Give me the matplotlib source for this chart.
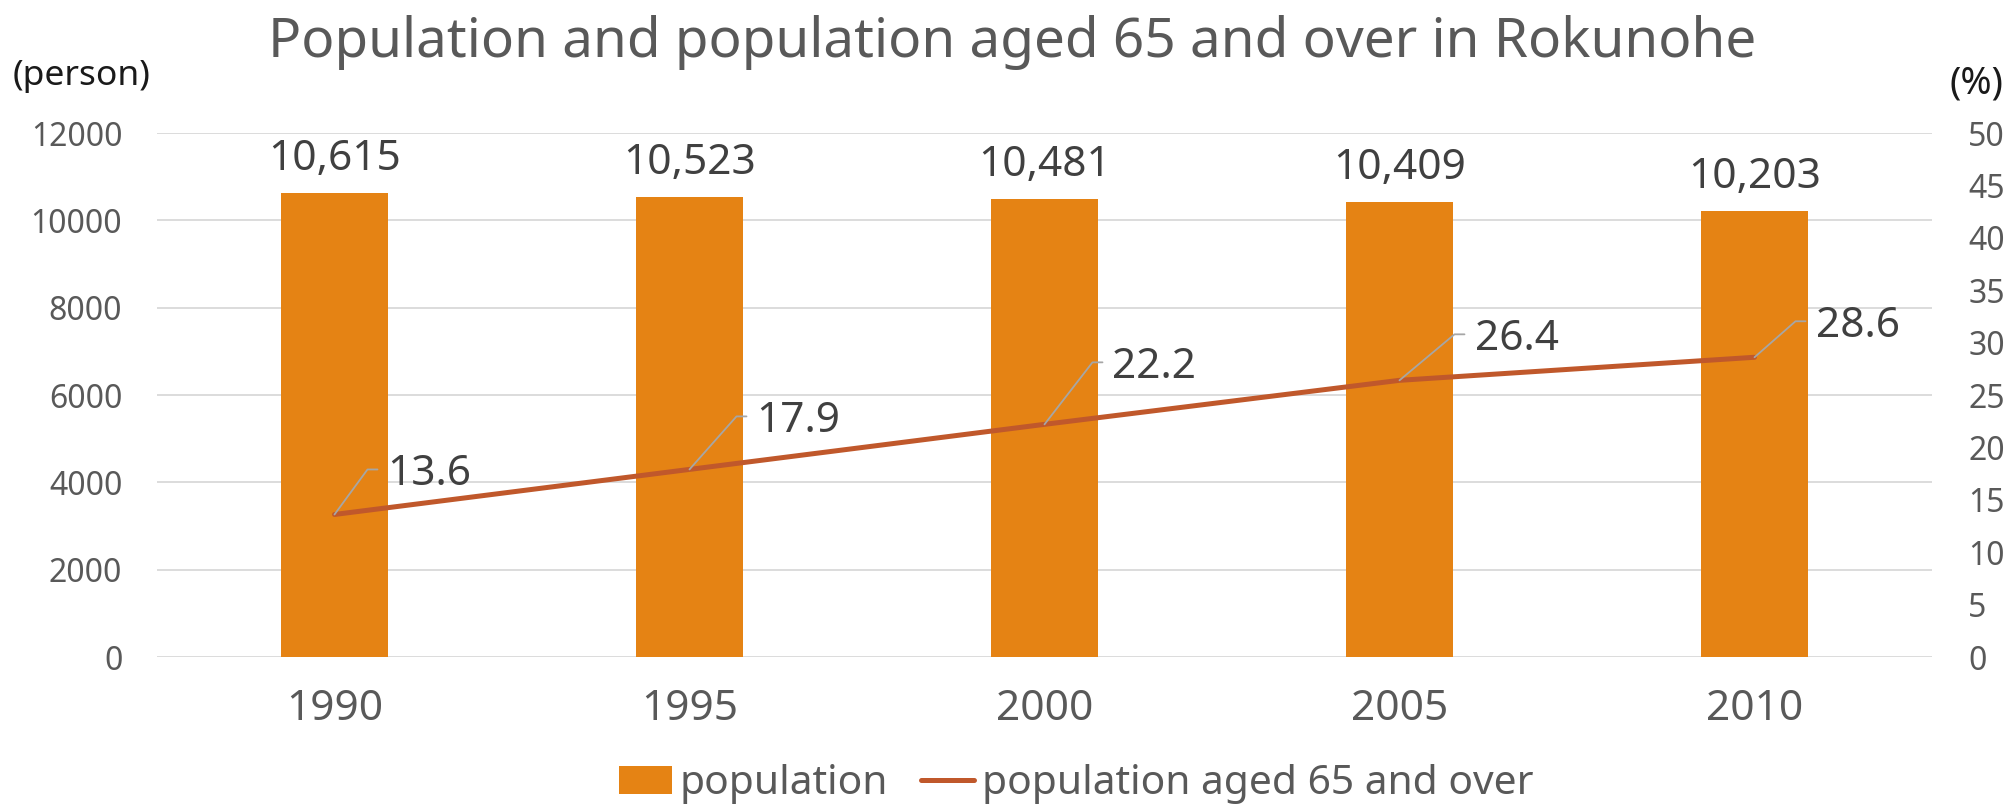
import math
import matplotlib
matplotlib.use("Agg")
import matplotlib.pyplot as plt

# data
years = ["1990", "1995", "2000", "2005", "2010"]
population = [10615, 10523, 10481, 10409, 10203]
aged_pct = [13.6, 17.9, 22.2, 26.4, 28.6]

# leader-line corner offsets for the % labels (pixels, right/up from the point)
label_offsets = [(33, 45), (47, 53), (48, 62), (55, 46), (41, 36)]

BAR = "#E58314"
LINE = "#C0582B"
GRID = "#D9D9D9"
TICK = "#595959"
LABEL = "#404040"

plt.rcParams["font.family"] = ["Noto Sans", "DejaVu Sans"]

fig = plt.figure(figsize=(20.08, 8.06), dpi=100)
ax = fig.add_axes([157 / 2008, 149 / 806, 1775 / 2008, 524 / 806])
ax2 = ax.twinx()

x = list(range(len(years)))
ax.bar(x, population, width=0.30, color=BAR, label="population", zorder=2)
ax.set_xlim(-0.5, len(years) - 0.5)
ax.set_ylim(0, 12000)
ax.set_yticks(range(0, 12001, 2000))
ax.grid(axis="y", color=GRID, linewidth=1.3, zorder=0)
ax.set_axisbelow(True)
ax.set_xticks(x, years)
ax.tick_params(axis="x", length=0, pad=22, labelsize=30.5, labelcolor=TICK)
ax.tick_params(axis="y", length=0, pad=25, labelsize=23, labelcolor=TICK)
for s in ax.spines.values():
    s.set_visible(False)

ln, = ax2.plot(x, aged_pct, color=LINE, linewidth=3.6, solid_capstyle="round",
               label="population aged 65 and over", zorder=3)
ax2.set_ylim(0, 50)
ax2.set_yticks(range(0, 51, 5))
ax2.tick_params(axis="y", length=0, pad=26, labelsize=23, labelcolor=TICK)
for s in ax2.spines.values():
    s.set_visible(False)

# value labels above the bars
for xi, v in zip(x, population):
    ax.annotate(f"{v:,}", (xi, v), xytext=(0, 23), textcoords="offset pixels",
                ha="center", va="baseline", fontsize=30.5, color=LABEL)

# % labels with grey leader lines
for xi, v, (dx, dy) in zip(x, aged_pct, label_offsets):
    h = 10
    ang = math.degrees(math.atan2(dy, dx))
    ax2.annotate("", xy=(xi, v), xytext=(dx + h, dy), textcoords="offset pixels",
                 arrowprops=dict(arrowstyle="-", color="#A6A6A6", lw=1.3,
                                 shrinkA=0, shrinkB=0,
                                 connectionstyle=f"angle,angleA=0,angleB={ang}"))
    ax2.annotate(f"{v:.1f}", (xi, v), xytext=(dx + h + 10, dy - 15.5),
                 textcoords="offset pixels", ha="left", va="baseline",
                 fontsize=30.5, color=LABEL)

fig.text(1012 / 2008, (806 - 57) / 806, "Population and population aged 65 and over in Rokunohe",
         ha="center", va="baseline", fontsize=39.5, color=TICK)
fig.text(82 / 2008, (806 - 76) / 806, "(person)", ha="center", va="center",
         fontsize=25.5, color="#1A1A1A")
fig.text(2003 / 2008, (806 - 83) / 806, "(%)", ha="right", va="center",
         fontsize=27, color="#1A1A1A")

bars = ax.containers[0]
fig.legend([bars, ln], ["population", "population aged 65 and over"],
           loc="center", bbox_to_anchor=(1076 / 2008, 22 / 806), ncol=2,
           frameon=False, fontsize=29.3, labelcolor=TICK,
           handlelength=1.3, handleheight=0.7, handletextpad=0.2,
           columnspacing=0.8)

fig.savefig("out.png", dpi=100)
